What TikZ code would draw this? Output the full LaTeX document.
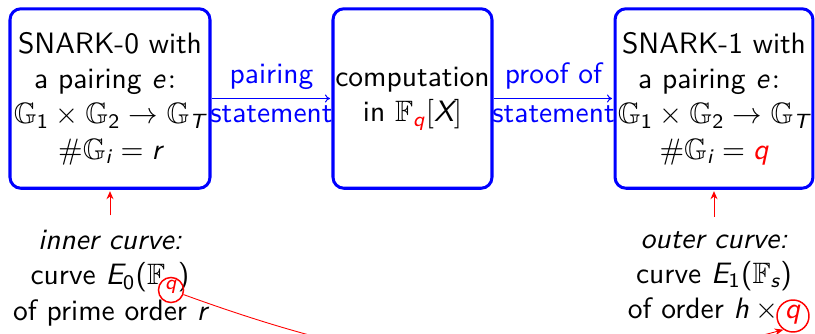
\documentclass[tikz,border=0pt]{standalone}
\usepackage{amsmath,amssymb}
\usetikzlibrary{arrows.meta}
\renewcommand{\familydefault}{\sfdefault}
\newcommand{\vi}[1]{\text{\itshape #1}}
\newcommand{\vu}[1]{\text{#1}}
\begin{document}
\begin{tikzpicture}[x=0.339pt,y=0.339pt,
  bigfont/.style={font=\fontsize{10}{12}\selectfont},
  box/.style={bigfont, draw=blue, line width=1.02pt, rounded corners=3.7pt,
    minimum height=60.85pt, align=center, inner sep=0pt},
  conn/.style={draw=blue, line width=0.34pt, -{To[length=1.7pt,width=2.7pt]}, shorten >=0.5pt},
  lbl/.style={bigfont, text=blue, anchor=base, inner sep=0pt},
  txt/.style={bigfont, align=center, inner sep=4.75pt},
  up/.style={draw=red, line width=0.3pt, -{Stealth[length=2.7pt,width=2.4pt]}, shorten >=0.5pt},
  qc/.style={draw=red, circle, line width=0.5pt, inner sep=0pt},
  qlink/.style={draw=red, line width=0.3pt, -{Stealth[length=3pt,width=2.4pt]}}]
\useasboundingbox (0,0) rectangle (815,333);
\clip (0,0) rectangle (815,333);
\node[box, minimum width=67.8pt] (b1) at (110,234.5)
  {SNARK-0 with\\ a pairing $\vi{e}\colon$\\
   $\mathbb{G}_{\vu{1}}\times\mathbb{G}_{\vu{2}}\to\mathbb{G}_{\vi{T}}$\\
   $\#\mathbb{G}_{\vi{i}}=\vi{r}$};
\node[box, minimum width=53.9pt] (b2) at (412.5,234.5)
  {computation\\ in $\mathbb{F}_{\textcolor{red}{\vi{q}}}[\vi{X}]$};
\node[box, minimum width=67.1pt] (b3) at (714,234.5)
  {SNARK-1 with\\ a pairing $\vi{e}\colon$\\
   $\mathbb{G}_{\vu{1}}\times\mathbb{G}_{\vu{2}}\to\mathbb{G}_{\vi{T}}$\\
   $\#\mathbb{G}_{\vi{i}}=\textcolor{red}{\vi{q}}$};
\draw[conn] (b1) -- node[lbl, yshift=5.25pt] {pairing}
  node[lbl, yshift=-8.3pt] {statement} (b2);
\draw[conn] (b2) -- node[lbl, yshift=5.25pt] {proof of}
  node[lbl, yshift=-8.3pt] {statement} (b3);
\node[txt] (inner) at (110,55)
  {\textit{inner curve:}\\
   curve $\vi{E}_{\vu{0}}\vu{(}\mathbb{F}_{\textcolor{red}{\vi{q}}}\vu{)}$\\
   of prime order $\vi{r}$};
\node[txt] (outer) at (714,55)
  {\textit{outer curve:}\\
   curve $\vi{E}_{\vu{1}}\vu{(}\mathbb{F}_{\vi{s}}\vu{)}$\\
   of order $\vi{h}\times\textcolor{red}{\vi{q}}$};
\draw[up] (inner) -- (b1);
\draw[up] (outer) -- (b3);
\node[qc, minimum size=8.5pt] (q1) at (171,43) {};
\node[qc, minimum size=10.85pt] (q2) at (793,17) {};
\draw[qlink] (q1) to[out=-20, in=195] (q2.235);
\end{tikzpicture}
\end{document}
